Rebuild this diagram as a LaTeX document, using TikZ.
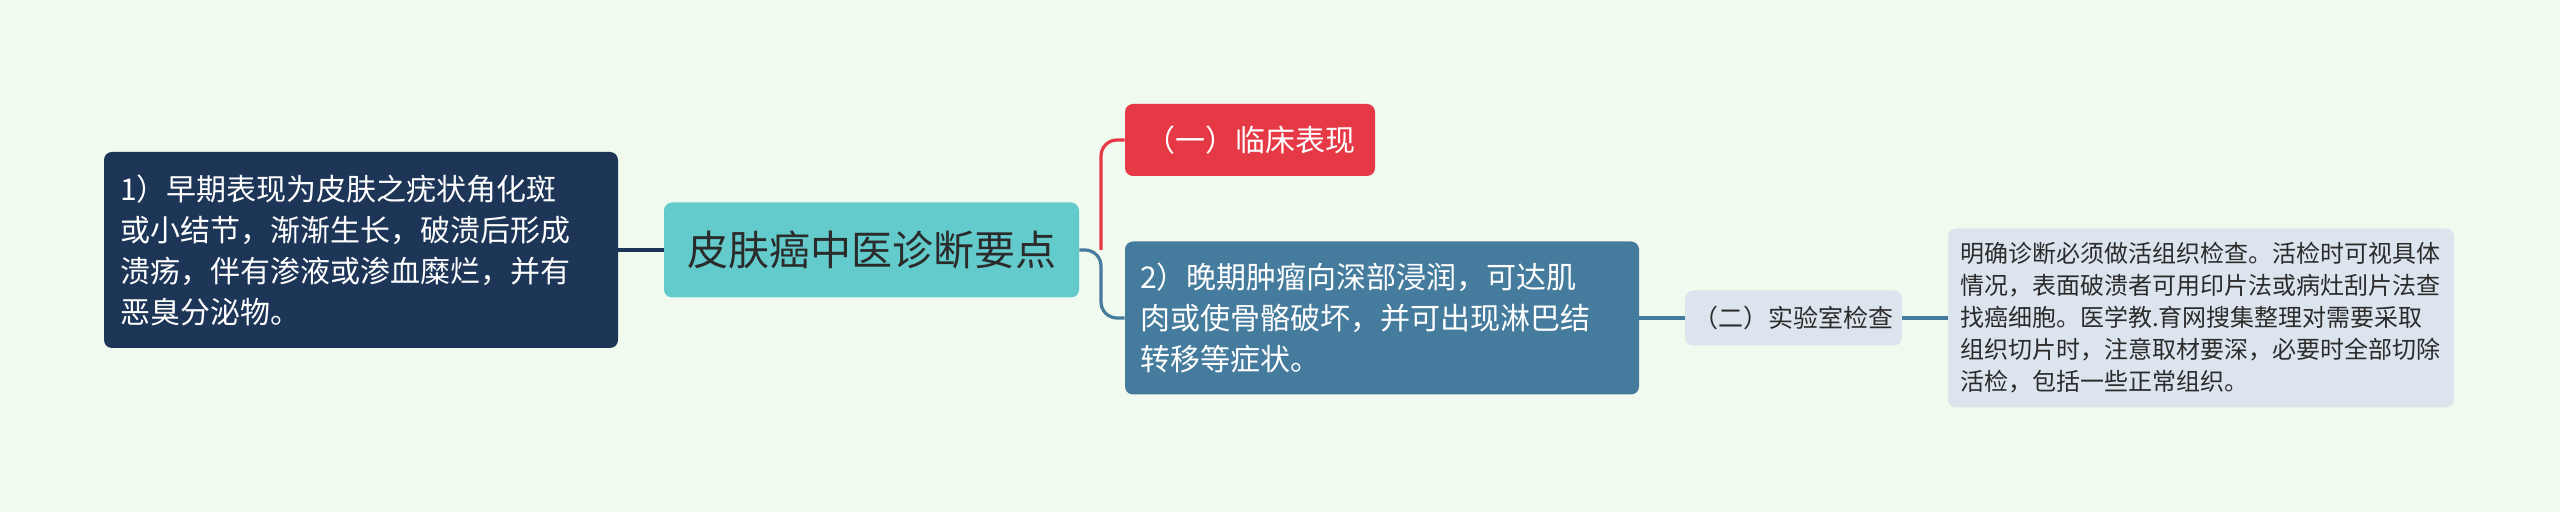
\documentclass[tikz,border=0pt]{standalone}
\usepackage{fontspec}
\setmainfont{Noto Sans CJK SC}
\definecolor{bgc}{HTML}{F1FAEE}
\definecolor{navy}{HTML}{1D3557}
\definecolor{teal}{HTML}{64CBCC}
\definecolor{redc}{HTML}{E63946}
\definecolor{bluec}{HTML}{457B9D}
\definecolor{lightc}{HTML}{DCE5ED}
\definecolor{darktext}{HTML}{2B2B2B}
\tikzset{
  box/.style={rounded corners=4pt, inner ysep=0pt, anchor=center},
  conn/.style={line width=1.6pt},
}
\begin{document}
\begin{tikzpicture}[x=0.5pt,y=-0.5pt]
\fill[bgc] (0,0) rectangle (2560,512);
\useasboundingbox (0,0) rectangle (2560,512);

\node[box, fill=navy, text=white, minimum width=257pt, minimum height=98pt,
  inner xsep=8pt, text width=241pt, align=left,
  font=\fontsize{15pt}{20.5pt}\selectfont] (left) at (361,250)
  {1）早期表现为皮肤之疣状角化斑\\或小结节，渐渐生长，破溃后形成\\溃疡，伴有渗液或渗血糜烂，并有\\恶臭分泌物。};

\node[box, fill=teal, text=darktext, minimum width=207.5pt, minimum height=47.5pt,
  font=\fontsize{20.5pt}{24pt}\selectfont] (cen) at (871.5,250)
  {皮肤癌中医诊断要点};

\node[box, fill=redc, text=white, minimum width=125pt, minimum height=36pt,
  font=\fontsize{15pt}{18pt}\selectfont] (red) at (1250,140)
  {（一）临床表现};

\node[box, fill=bluec, text=white, minimum width=257pt, minimum height=76.5pt,
  inner xsep=7.5pt, text width=242pt, align=left,
  font=\fontsize{15pt}{20.5pt}\selectfont] (blue) at (1382,318)
  {2）晚期肿瘤向深部浸润，可达肌\\肉或使骨骼破坏，并可出现淋巴结\\转移等症状。};

\node[box, fill=lightc, text=darktext, minimum width=108.5pt, minimum height=27.5pt,
  font=\fontsize{12.5pt}{15pt}\selectfont] (lab) at (1793.5,318)
  {（二）实验室检查};

\node[box, fill=lightc, text=darktext, minimum width=253pt, minimum height=89.5pt,
  inner xsep=6pt, text width=241pt, align=left,
  font=\fontsize{12pt}{16pt}\selectfont] (det) at (2201,318)
  {明确诊断必须做活组织检查。活检时可视具体\\情况，表面破溃者可用印片法或病灶刮片法查\\找癌细胞。医学教.育网搜集整理对需要采取\\组织切片时，注意取材要深，必要时全部切除\\活检，包括一些正常组织。};

\coordinate (j) at (1101,250);

\draw[conn, navy] (left.east) -- (cen.west);
\draw[conn, redc, rounded corners=8pt] (j) |- (red.west);
\draw[conn, bluec, rounded corners=8pt] (cen.east) -- (j) |- (blue.west);
\draw[conn, bluec] (blue.east) -- (lab.west);
\draw[conn, bluec] (lab.east) -- (det.west);
\end{tikzpicture}
\end{document}
